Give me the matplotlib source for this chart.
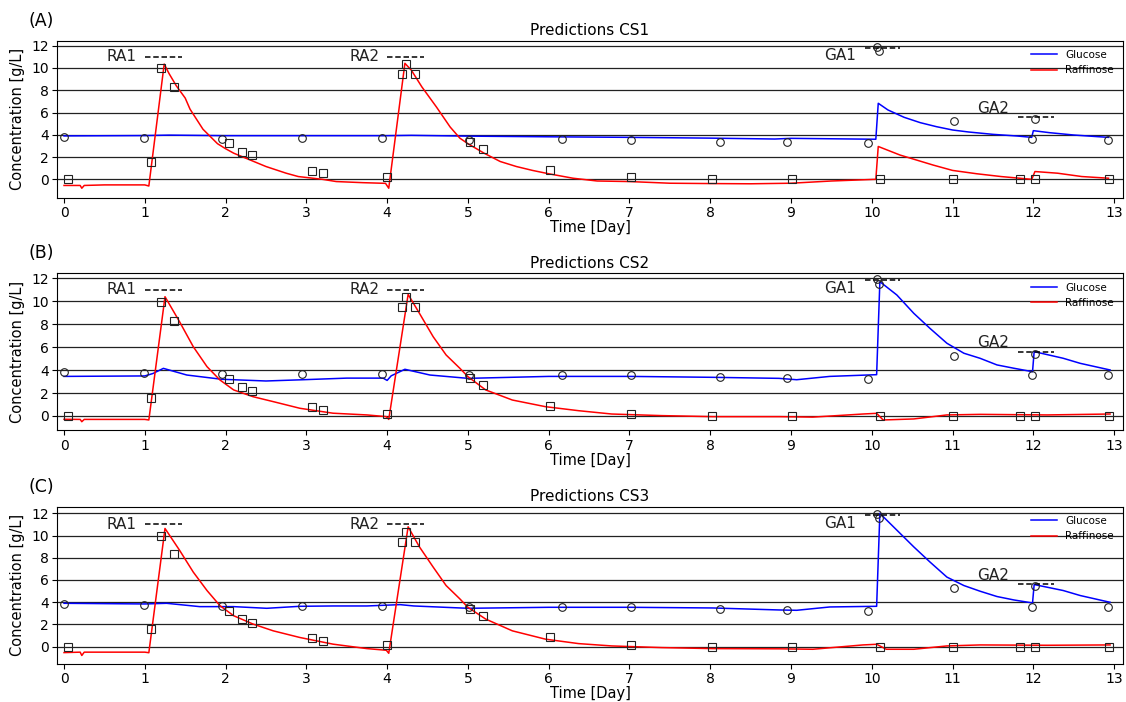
import numpy as np
import matplotlib.pyplot as plt

# measured samples (same in every panel)
t_glc_meas = [0.0, 0.99, 1.95, 2.94, 3.94, 5.01, 6.17, 7.02, 8.12, 8.95, 9.95,
              10.07, 10.09, 11.02, 11.98, 12.02, 12.93]
glc_meas = [3.8, 3.72, 3.66, 3.68, 3.68, 3.55, 3.58, 3.53, 3.38, 3.32, 3.23,
            11.9, 11.55, 5.27, 3.6, 5.42, 3.53]
t_raf_meas = [0.05, 1.08, 1.2, 1.36, 2.04, 2.2, 2.33, 3.07, 3.2, 4.0, 4.18, 4.23,
              4.35, 5.02, 5.19, 6.02, 7.02, 8.02, 9.01, 10.1, 11.01, 11.84, 12.02, 12.94]
raf_meas = [0.0, 1.59, 9.97, 8.32, 3.23, 2.49, 2.16, 0.75, 0.54, 0.18, 9.46, 10.33,
            9.46, 3.35, 2.72, 0.87, 0.18, 0.0, 0.0, 0.0, 0.0, 0.0, 0.0, 0.0]

# model predictions
# CS1
t_glc_a = [0.0, 1.0, 1.3, 2.0, 3.0, 4.0, 4.3, 5.0, 6.0, 7.0, 8.0, 8.8, 9.0, 10.05,
           10.08, 10.2, 10.4, 10.6, 10.8, 11.0, 11.2, 11.5, 11.8, 11.98, 12.0, 12.2,
           12.5, 12.8, 12.93]
glc_a = [3.9, 3.93, 3.97, 3.92, 3.92, 3.92, 3.95, 3.88, 3.82, 3.77, 3.7, 3.62, 3.68, 3.6,
         6.83, 6.23, 5.57, 5.09, 4.73, 4.43, 4.25, 4.04, 3.89, 3.77, 4.37, 4.19,
         3.98, 3.83, 3.77]
t_raf_a = [0.0, 0.2, 0.22, 0.25, 0.5, 1.0, 1.05, 1.24, 1.3, 1.39, 1.5, 1.56, 1.72, 1.9,
           2.0, 2.1, 2.3, 2.5, 2.75, 2.9, 3.2, 3.37, 3.7, 3.98, 4.02, 4.22, 4.3, 4.43,
           4.61, 4.78, 4.9, 5.0, 5.2, 5.4, 5.6, 5.8, 6.0, 6.3, 6.6, 7.0, 7.5, 8.0, 8.5,
           9.0, 9.5, 10.05, 10.08, 10.35, 10.76, 11.0, 11.3, 11.6, 11.98, 12.02, 12.3,
           12.6, 12.93]
raf_a = [-0.55, -0.55, -0.8, -0.55, -0.5, -0.5, -0.6, 10.35, 9.5, 8.4, 7.3, 6.3, 4.5, 3.2,
         2.75, 2.35, 1.75, 1.15, 0.55, 0.25, 0.0, -0.2, -0.3, -0.36, -0.8, 10.42, 9.8, 8.3,
         6.5, 4.7, 3.7, 3.2, 2.35, 1.6, 1.15, 0.8, 0.5, 0.1, -0.15, -0.2, -0.35, -0.38, -0.4,
         -0.35, -0.15, 0.0, 2.95, 2.18, 1.28, 0.8, 0.5, 0.25, 0.0, 0.7, 0.55, 0.25, 0.1]

# CS2
t_glc_b = [0.0, 1.0, 1.1, 1.23, 1.52, 1.95, 2.5, 2.92, 3.5, 3.95, 4.0, 4.05, 4.22, 4.53,
           5.0, 6.0, 7.0, 8.03, 8.85, 9.07, 9.48, 10.06, 10.1, 10.31, 10.52, 10.72,
           10.93, 11.14, 11.34, 11.55, 11.76, 11.99, 12.01, 12.37, 12.58, 12.95]
glc_b = [3.45, 3.49, 3.7, 4.15, 3.57, 3.2, 3.05, 3.15, 3.3, 3.3, 3.1, 3.5, 4.07, 3.57,
         3.28, 3.45, 3.45, 3.37, 3.28, 3.16, 3.45, 3.6, 11.71, 10.55, 8.95, 7.64,
         6.34, 5.47, 5.03, 4.45, 4.16, 3.86, 5.61, 5.03, 4.59, 4.01]
t_raf_b = [0.0, 0.2, 0.22, 0.25, 1.0, 1.05, 1.25, 1.43, 1.6, 1.77, 1.93, 2.1, 2.34, 2.59,
           2.92, 3.33, 3.75, 3.99, 4.02, 4.26, 4.4, 4.57, 4.73, 4.9, 5.0, 5.22, 5.55,
           5.96, 6.37, 6.78, 7.4, 8.03, 8.86, 9.27, 9.89, 10.06, 10.14, 10.52, 10.93,
           11.34, 12.17, 12.95]
raf_b = [-0.29, -0.3, -0.5, -0.3, -0.3, -0.35, 10.4, 8.22, 6.04, 4.3, 3.14, 2.27, 1.68, 1.25,
         0.67, 0.24, 0.09, -0.06, -0.3, 10.6, 8.95, 6.91, 5.32, 4.16, 3.43, 2.27, 1.39,
         0.81, 0.46, 0.17, 0.03, -0.06, -0.06, -0.1, 0.17, 0.23, -0.35, -0.26, 0.09,
         0.14, 0.09, 0.17]

# CS3
t_glc_c = [0.0, 1.0, 1.27, 1.68, 2.1, 2.51, 2.92, 3.33, 3.75, 4.16, 4.33, 5.0, 6.0,
           7.0, 8.03, 8.85, 9.07, 9.48, 10.06, 10.1, 10.31, 10.52, 10.72, 10.93, 11.14,
           11.34, 11.55, 11.76, 11.99, 12.01, 12.37, 12.58, 12.95]
glc_c = [3.9, 3.84, 3.9, 3.6, 3.6, 3.45, 3.63, 3.66, 3.66, 3.78, 3.66, 3.45, 3.54,
         3.54, 3.48, 3.3, 3.27, 3.57, 3.63, 12.0, 10.49, 8.98, 7.62, 6.26, 5.5,
         4.99, 4.51, 4.2, 3.93, 5.59, 5.05, 4.6, 3.99]
t_raf_c = [0.0, 0.2, 0.22, 0.25, 1.0, 1.05, 1.25, 1.43, 1.6, 1.77, 1.93, 2.1, 2.34, 2.59,
           2.92, 3.33, 3.75, 3.99, 4.02, 4.26, 4.4, 4.57, 4.73, 4.9, 5.0, 5.22, 5.55,
           5.96, 6.37, 6.78, 7.4, 8.03, 8.86, 9.27, 9.89, 10.06, 10.18, 10.52, 10.93,
           11.34, 12.17, 12.95]
raf_c = [-0.54, -0.5, -0.8, -0.5, -0.5, -0.55, 10.64, 8.68, 6.71, 5.05, 3.69, 2.78, 2.03,
         1.42, 0.82, 0.22, -0.18, -0.33, -0.6, 10.79, 8.98, 7.16, 5.5, 4.3, 3.54, 2.48,
         1.42, 0.67, 0.27, 0.06, -0.09, -0.18, -0.2, -0.24, 0.15, 0.21, -0.24, -0.24,
         0.06, 0.15, 0.12, 0.15]

panels = [
    ("(A)", "Predictions CS1", t_glc_a, glc_a, t_raf_a, raf_a, (-1.65, 12.45)),
    ("(B)", "Predictions CS2", t_glc_b, glc_b, t_raf_b, raf_b, (-1.25, 12.44)),
    ("(C)", "Predictions CS3", t_glc_c, glc_c, t_raf_c, raf_c, (-1.54, 12.6)),
]

# annotation labels: (text, text x, text y, dash x0, dash x1, dash y)
labels = [
    ("RA1", 0.9, 11.0, 1.0, 1.46, 11.0),
    ("RA2", 3.9, 11.0, 4.0, 4.46, 11.0),
    ("GA1", 9.8, 11.1, 9.91, 10.35, 11.83),
    ("GA2", 11.7, 6.4, 11.81, 12.25, 5.6),
]

fig = plt.figure(figsize=(11.26, 7.02), dpi=100)
tops = [40.7, 273.3, 506.7]
H = 702.0
W = 1126.0

for i, (tag, title, tg, g, tr, r, ylim) in enumerate(panels):
    top = tops[i]
    ax = fig.add_axes([57 / W, 1 - (top + 157) / H, 1066 / W, 157 / H])
    ax.plot(tg, g, color="blue", lw=1.1, label="Glucose")
    ax.plot(tr, r, color="red", lw=1.1, label="Raffinose")
    ax.plot(t_glc_meas, glc_meas, "o", ms=5.5, mfc="none", mec="#222222", mew=0.8)
    ax.plot(t_raf_meas, raf_meas, "s", ms=5.5, mfc="none", mec="#222222", mew=0.8)
    for txt, tx, ty, x0, x1, y in labels:
        ax.plot([x0, x1], [y, y], color="k", lw=1.1, dashes=(3.6, 1.8))
        ax.text(tx, ty, txt, ha="right", va="center", fontsize=11, color="#222222")
    ax.set_xlim(-0.087, 13.11)
    ax.set_ylim(*ylim)
    ax.set_xticks(range(0, 14))
    ax.set_yticks(range(0, 13, 2))
    ax.tick_params(labelsize=10, pad=2.5)
    ax.yaxis.grid(True, color="#222222", lw=0.9)
    ax.set_xlabel("Time [Day]", fontsize=10.5, labelpad=0)
    ax.set_ylabel("Concentration [g/L]", fontsize=10.5)
    ax.set_title(title, fontsize=11, pad=4)
    ax.legend(loc="upper right", frameon=False, fontsize=7.5, handlelength=2.5)
    fig.text(28 / W, 1 - (top - 20) / H, tag, fontsize=12.5, va="center")

fig.savefig("out.png", dpi=100)
